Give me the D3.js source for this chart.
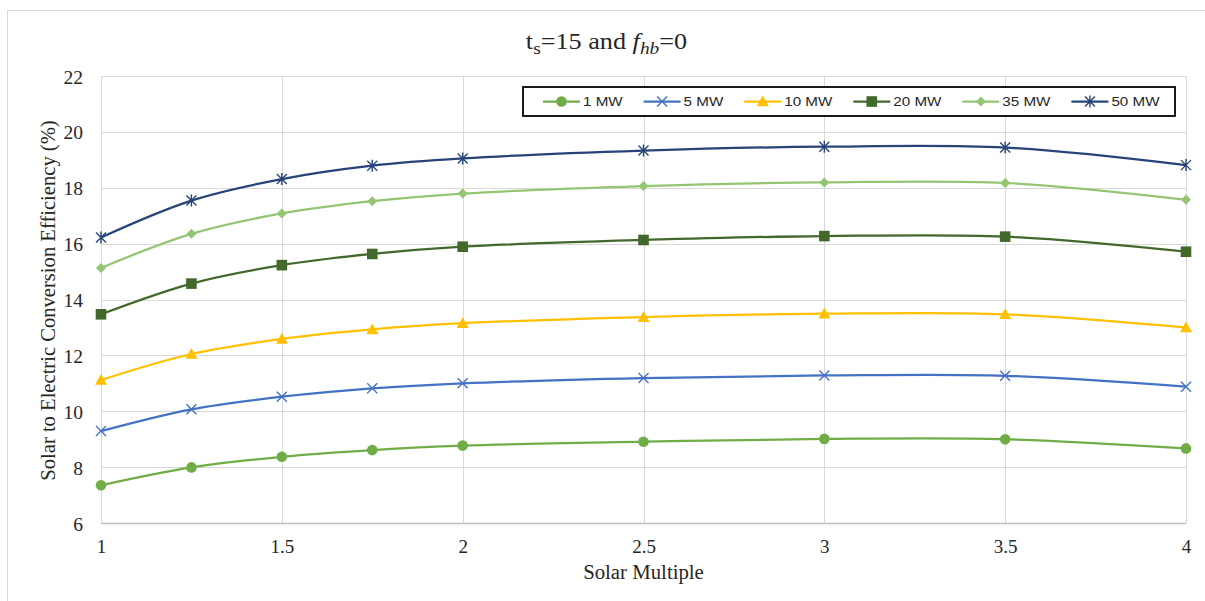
<!DOCTYPE html>
<html><head><meta charset="utf-8">
<script src="https://cdn.jsdelivr.net/npm/d3@7"></script>
<style>body{margin:0;background:#fff}svg{display:block}</style>
</head><body><svg id="c" width="1205" height="601"></svg>
<script>
const solarMultiple = [1, 1.25, 1.5, 1.75, 2, 2.5, 3, 3.5, 4];
const seriesNames = ["1 MW", "5 MW", "10 MW", "20 MW", "35 MW", "50 MW"];
const eff1MW  = [7.35, 7.99, 8.37, 8.61, 8.77, 8.91, 9.01, 9.00, 8.67];
const eff5MW  = [9.29, 10.07, 10.52, 10.82, 11.00, 11.19, 11.28, 11.27, 10.88];
const eff10MW = [11.12, 12.05, 12.59, 12.93, 13.15, 13.37, 13.49, 13.47, 13.00];
const eff20MW = [13.47, 14.57, 15.23, 15.63, 15.89, 16.13, 16.27, 16.25, 15.71];
const eff35MW = [15.13, 16.35, 17.08, 17.52, 17.79, 18.06, 18.19, 18.17, 17.57];
const eff50MW = [16.22, 17.54, 18.31, 18.79, 19.05, 19.33, 19.47, 19.44, 18.81];
const xTicks = [1, 1.5, 2, 2.5, 3, 3.5, 4];
const yTicks = [6, 8, 10, 12, 14, 16, 18, 20, 22];

const seriesValues = [eff1MW, eff5MW, eff10MW, eff20MW, eff35MW, eff50MW];
const colors = ["#70ad47", "#4472c4", "#ffc000", "#43682b", "#93c572", "#264478"];
const markers = ["circle", "x", "triangle", "square", "diamond", "star"];

const svg = d3.select("#c");
const serif = "'Liberation Serif', 'DejaVu Serif', serif";
const sans = "'Liberation Sans', 'Open Sans', sans-serif";
const textCol = "#262626";

// chart border
svg.append("rect").attr("x", 7.5).attr("y", 10.5).attr("width", 1205).attr("height", 620)
  .attr("fill", "none").attr("stroke", "#d9d9d9");

const L = 101, R = 1186, T = 76, B = 523;
const x = d3.scaleLinear().domain([1, 4]).range([L, R]);
const y = d3.scaleLinear().domain([6, 22]).range([B, T]);

// gridlines
const g = svg.append("g");
g.selectAll(".hg").data(yTicks.filter(v => v !== 6)).enter().append("line")
  .attr("x1", L).attr("x2", R).attr("y1", d => Math.round(y(d)) + 0.5).attr("y2", d => Math.round(y(d)) + 0.5)
  .attr("stroke", "#d9d9d9").attr("stroke-width", 1);
g.selectAll(".vg").data(xTicks).enter().append("line")
  .attr("y1", T).attr("y2", B).attr("x1", d => Math.round(x(d)) + 0.5).attr("x2", d => Math.round(x(d)) + 0.5)
  .attr("stroke", "#d9d9d9").attr("stroke-width", 1);
g.append("line").attr("x1", L).attr("x2", R).attr("y1", B + 0.5).attr("y2", B + 0.5)
  .attr("stroke", "#bfbfbf").attr("stroke-width", 1.5);

// axes
const xAxis = svg.append("g").attr("transform", `translate(0,${B})`)
  .call(d3.axisBottom(x).tickValues(xTicks).tickSize(0).tickPadding(0).tickFormat(d3.format("")));
xAxis.select(".domain").remove();
xAxis.selectAll("text").attr("font-family", serif).attr("font-size", 19).attr("fill", textCol)
  .attr("dy", null).attr("y", 30);
const yAxis = svg.append("g").attr("transform", `translate(${L},0)`)
  .call(d3.axisLeft(y).tickValues(yTicks).tickSize(0).tickPadding(0));
yAxis.select(".domain").remove();
yAxis.selectAll("text").attr("font-family", serif).attr("font-size", 19.5).attr("fill", textCol)
  .attr("x", -18).attr("dy", 7);

// axis titles
svg.append("text").attr("x", (L + R) / 2).attr("y", 579).attr("text-anchor", "middle")
  .attr("font-family", serif).attr("font-size", 20.8).attr("fill", textCol).text("Solar Multiple");
svg.append("text").attr("transform", `translate(55,${(T + B) / 2 + 1}) rotate(-90)`).attr("text-anchor", "middle")
  .attr("font-family", serif).attr("font-size", 20.6).attr("fill", textCol)
  .text("Solar to Electric Conversion Efficiency (%)");

// title
const title = svg.append("text").attr("transform", "translate(606.5,49) scale(1.14,1)").attr("text-anchor", "middle")
  .attr("font-family", serif).attr("font-size", 23).attr("fill", textCol);
title.append("tspan").text("t");
title.append("tspan").attr("font-size", 17).attr("dy", 5).text("s");
title.append("tspan").attr("dy", -5).text("=15 and ");
title.append("tspan").attr("font-style", "italic").text("f");
title.append("tspan").attr("font-style", "italic").attr("font-size", 17).attr("dy", 5).text("hb");
title.append("tspan").attr("dy", -5).text("=0");

function drawMarker(sel, type, color) {
  if (type === "circle") {
    sel.append("circle").attr("r", 5.3).attr("fill", color);
  } else if (type === "square") {
    sel.append("rect").attr("x", -5.3).attr("y", -5.3).attr("width", 10.6).attr("height", 10.6).attr("fill", color);
  } else if (type === "triangle") {
    sel.append("path").attr("d", "M0,-6L6,4.8L-6,4.8Z").attr("fill", color);
  } else if (type === "diamond") {
    sel.append("path").attr("d", "M0,-5L5,0L0,5L-5,0Z").attr("fill", color);
  } else if (type === "x") {
    sel.append("path").attr("d", "M-5,-5L5,5M-5,5L5,-5").attr("stroke", color).attr("stroke-width", 1.4).attr("fill", "none");
  } else if (type === "star") {
    sel.append("path").attr("d", "M-5,-5L5,5M-5,5L5,-5M0,-6L0,6").attr("stroke", color).attr("stroke-width", 1.4).attr("fill", "none");
  }
}

const line = d3.line().x((d, i) => x(solarMultiple[i])).y(d => y(d)).curve(d3.curveCatmullRom.alpha(0.5));

seriesValues.forEach((vals, si) => {
  const sg = svg.append("g");
  sg.append("path").attr("d", line(vals)).attr("fill", "none").attr("stroke", colors[si]).attr("stroke-width", 2.25);
  vals.forEach((v, i) => {
    const m = sg.append("g").attr("transform", `translate(${x(solarMultiple[i])},${y(v)})`);
    drawMarker(m, markers[si], colors[si]);
  });
});

// legend
const leg = svg.append("g");
leg.append("rect").attr("x", 523).attr("y", 87).attr("width", 652).attr("height", 29)
  .attr("fill", "#fff").attr("stroke", "#000").attr("stroke-width", 1.8);
const legStretch = 1.15;
let lx = 543;
seriesNames.forEach((name, si) => {
  const it = leg.append("g").attr("transform", `translate(${lx},101.5)`);
  it.append("line").attr("x1", 0).attr("x2", 37).attr("y1", 0).attr("y2", 0)
    .attr("stroke", colors[si]).attr("stroke-width", 2.25);
  const m = it.append("g").attr("transform", "translate(18.5,0)");
  drawMarker(m, markers[si], colors[si]);
  const t = it.append("text").attr("transform", `translate(40,4.7) scale(${legStretch},1)`)
    .attr("font-family", sans).attr("font-size", 13.2).attr("fill", textCol).text(name);
  const w = t.node().getComputedTextLength() * legStretch;
  lx += 40 + w + 21;
});
</script></body></html>
